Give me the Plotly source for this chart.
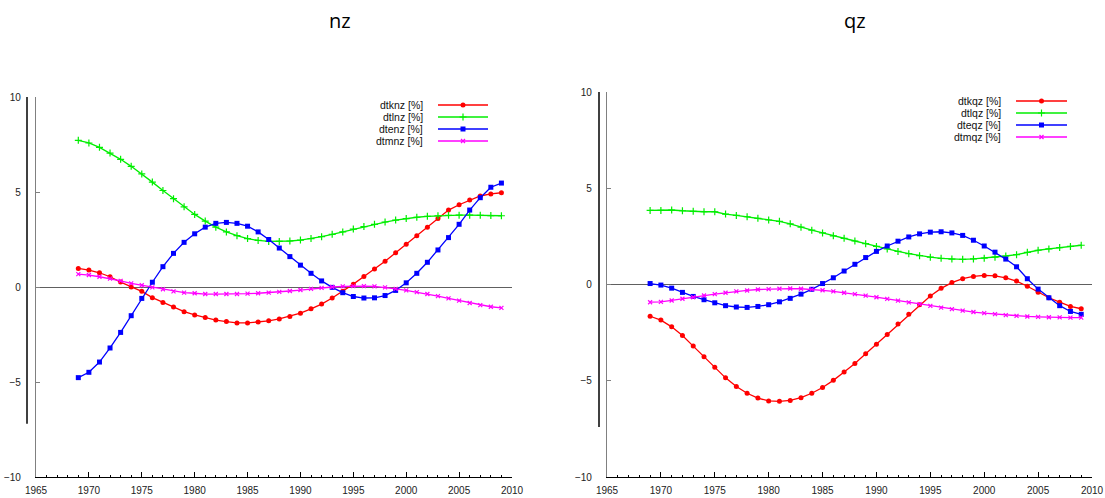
import plotly.graph_objects as go

# ---------------- data ----------------
years = list(range(1969, 2010))

dtknz = [0.98, 0.89, 0.75, 0.54, 0.26, 0.0, -0.23, -0.56, -0.81, -1.05,
         -1.3, -1.47, -1.61, -1.74, -1.82, -1.89, -1.89, -1.84, -1.78, -1.68,
         -1.55, -1.38, -1.15, -0.9, -0.58, -0.22, 0.15, 0.55, 0.95, 1.35,
         1.8, 2.25, 2.7, 3.15, 3.6, 4.05, 4.33, 4.58, 4.79, 4.9,
         4.96]
dtlnz = [7.72, 7.58, 7.35, 7.05, 6.72, 6.35, 5.95, 5.52, 5.08, 4.65,
         4.22, 3.82, 3.47, 3.15, 2.9, 2.7, 2.55, 2.45, 2.4, 2.4,
         2.42, 2.47, 2.55, 2.65, 2.77, 2.9, 3.05, 3.18, 3.3, 3.42,
         3.52, 3.6, 3.67, 3.72, 3.75, 3.77, 3.78, 3.78, 3.77, 3.76,
         3.75]
dtenz = [-4.77, -4.49, -3.95, -3.21, -2.39, -1.51, -0.6, 0.25, 1.07, 1.77,
         2.35, 2.8, 3.15, 3.35, 3.4, 3.35, 3.2, 2.9, 2.5, 2.05,
         1.6, 1.15, 0.72, 0.32, -0.02, -0.3, -0.5, -0.58, -0.57, -0.45,
         -0.18, 0.22, 0.72, 1.3, 1.95, 2.6, 3.3, 4.05, 4.7, 5.25,
         5.47]
dtmnz = [0.68, 0.63, 0.54, 0.44, 0.32, 0.19, 0.09, -0.02, -0.12, -0.23,
         -0.3, -0.33, -0.37, -0.37, -0.37, -0.37, -0.35, -0.33, -0.3, -0.26,
         -0.21, -0.16, -0.1, -0.05, 0.0, 0.03, 0.05, 0.05, 0.03, -0.02,
         -0.1, -0.18, -0.27, -0.37, -0.48, -0.6, -0.72, -0.84, -0.95, -1.04,
         -1.1]

dtkqz = [-1.65, -1.85, -2.2, -2.65, -3.2, -3.75, -4.3, -4.85, -5.3, -5.65,
         -5.9, -6.05, -6.07, -6.02, -5.88, -5.65, -5.35, -4.98, -4.55, -4.1,
         -3.6, -3.1, -2.6, -2.05, -1.55, -1.05, -0.6, -0.2, 0.1, 0.3,
         0.42, 0.47, 0.45, 0.35, 0.18, -0.09, -0.4, -0.69, -0.92, -1.14,
         -1.26]
dtlqz = [3.85, 3.85, 3.87, 3.83, 3.8, 3.78, 3.78, 3.66, 3.59, 3.52,
         3.44, 3.35, 3.28, 3.15, 2.98, 2.82, 2.68, 2.53, 2.4, 2.26,
         2.12, 1.98, 1.85, 1.72, 1.6, 1.5, 1.42, 1.36, 1.32, 1.31,
         1.33, 1.37, 1.42, 1.48, 1.55, 1.67, 1.78, 1.85, 1.92, 1.98,
         2.04]
dteqz = [0.05, -0.03, -0.19, -0.41, -0.62, -0.79, -0.95, -1.1, -1.17, -1.19,
         -1.14, -1.05, -0.9, -0.72, -0.5, -0.25, 0.05, 0.35, 0.7, 1.05,
         1.4, 1.72, 2.0, 2.25, 2.47, 2.63, 2.72, 2.74, 2.68, 2.55,
         2.3, 2.0, 1.68, 1.32, 0.92, 0.3, -0.24, -0.69, -1.1, -1.4,
         -1.55]
dtmqz = [-0.92, -0.9, -0.83, -0.74, -0.66, -0.57, -0.5, -0.43, -0.36, -0.31,
         -0.26, -0.24, -0.22, -0.21, -0.22, -0.25, -0.3, -0.36, -0.43, -0.5,
         -0.58, -0.66, -0.75, -0.84, -0.93, -1.02, -1.11, -1.2, -1.28, -1.36,
         -1.43, -1.49, -1.54, -1.59, -1.63, -1.66, -1.68, -1.7, -1.71, -1.72,
         -1.72]

names_nz = ["dtknz [%]", "dtlnz [%]", "dtenz [%]", "dtmnz [%]"]
names_qz = ["dtkqz [%]", "dtlqz [%]", "dteqz [%]", "dtmqz [%]"]
titles = ["nz", "qz"]
x_ticks = [1965, 1970, 1975, 1980, 1985, 1990, 1995, 2000, 2005, 2010]
y_ticks = [-10, -5, 0, 5, 10]

# ---------------- styling ----------------
W, H = 1105, 498
colors = ["#ff0000", "#00ee00", "#0000ff", "#ff00ff"]
symbols = ["circle", "cross-thin", "square", "x-thin"]
msizes = [5, 5, 5, 4]
FONT = "Liberation Sans, Arial, sans-serif"

def fx(p):
    return p / W

def fy(p):
    return 1 - p / H

fig = go.Figure()

panels = [
    dict(series=[dtknz, dtlnz, dtenz, dtmnz], names=names_nz, xa="x", ya="y",
         left=36, right=512, top=97, bottom=477, title_x=340,
         leg_text=425, leg_l=438, leg_r=488, leg_rows=[105, 117, 129, 141],
         vline_x=27, vline_bottom=-7.2),
    dict(series=[dtkqz, dtlqz, dteqz, dtmqz], names=names_qz, xa="x2", ya="y2",
         left=607, right=1092, top=92, bottom=477, title_x=855,
         leg_text=1003, leg_l=1016, leg_r=1067, leg_rows=[101, 113, 125, 137],
         vline_x=599, vline_bottom=-7.4),
]

def mk_marker(i):
    m = dict(symbol=symbols[i], size=msizes[i], color=colors[i])
    if "thin" in symbols[i]:
        m["line"] = dict(color=colors[i], width=1.2)
    return m

annotations = []
shapes = []
for p_i, P in enumerate(panels):
    for i, s in enumerate(P["series"]):
        fig.add_trace(go.Scatter(
            x=years, y=s, mode="lines+markers", name=P["names"][i],
            xaxis=P["xa"], yaxis=P["ya"], showlegend=False,
            line=dict(color=colors[i], width=1.3),
            marker=mk_marker(i)))
    # legend samples on overlay pixel axis
    for i, row in enumerate(P["leg_rows"]):
        fig.add_trace(go.Scatter(
            x=[P["leg_l"], P["leg_r"]], y=[row, row], mode="lines",
            xaxis="x3", yaxis="y3", showlegend=False, hoverinfo="skip",
            line=dict(color=colors[i], width=1.3)))
        fig.add_trace(go.Scatter(
            x=[(P["leg_l"] + P["leg_r"]) / 2], y=[row], mode="markers",
            xaxis="x3", yaxis="y3", showlegend=False, hoverinfo="skip",
            marker=mk_marker(i)))
        annotations.append(dict(
            text=P["names"][i], xref="paper", yref="paper",
            x=fx(P["leg_text"]), y=fy(row), xanchor="right", yanchor="middle",
            showarrow=False, font=dict(family=FONT, size=10.5, color="#111")))
    annotations.append(dict(
        text=titles[p_i], xref="paper", yref="paper",
        x=fx(P["title_x"]), y=fy(20), xanchor="center", yanchor="middle",
        showarrow=False, font=dict(family="Open Sans, sans-serif", size=20, color="#000")))
    shapes.append(dict(
        type="line", xref="paper", yref=P["ya"],
        x0=fx(P["vline_x"]), x1=fx(P["vline_x"]), y0=10, y1=P["vline_bottom"],
        line=dict(color="#000", width=1.5)))

def xaxis_cfg(P, anchor):
    return dict(
        domain=[fx(P["left"]), fx(P["right"])], range=[1965, 2010], anchor=anchor,
        automargin=False,
        tickmode="array", tickvals=x_ticks, ticks="inside", ticklen=5,
        tickcolor="#000", tickwidth=1, showline=True, linecolor="#000", linewidth=1,
        showgrid=False, zeroline=False, ticklabelstandoff=4,
        tickfont=dict(family=FONT, size=10, color="#222"),
        minor=dict(ticks="inside", dtick=1, tick0=1965, ticklen=2.5,
                   tickcolor="#000", showgrid=False))

def yaxis_cfg(P, anchor):
    return dict(
        domain=[fy(P["bottom"]), fy(P["top"])], range=[-10, 10], anchor=anchor,
        automargin=False,
        tickmode="array", tickvals=y_ticks, ticks="inside", ticklen=4,
        tickcolor="#808080", showline=True, linecolor="#808080", linewidth=1.3,
        showgrid=False, zeroline=True, zerolinecolor="#606060", zerolinewidth=1.2,
        ticklabelstandoff=12,
        tickfont=dict(family=FONT, size=10, color="#222"))

fig.update_layout(
    width=W, height=H, margin=dict(l=0, r=0, t=0, b=0, autoexpand=False),
    paper_bgcolor="white", plot_bgcolor="rgba(0,0,0,0)",
    xaxis=xaxis_cfg(panels[0], "y"), yaxis=yaxis_cfg(panels[0], "x"),
    xaxis2=xaxis_cfg(panels[1], "y2"), yaxis2=yaxis_cfg(panels[1], "x2"),
    xaxis3=dict(domain=[0, 1], range=[0, W], visible=False, anchor="y3",
                fixedrange=True, automargin=False),
    yaxis3=dict(domain=[0, 1], range=[H, 0], visible=False, anchor="x3",
                fixedrange=True, automargin=False),
    annotations=annotations, shapes=shapes, showlegend=False,
)

fig.write_html("out.html")
